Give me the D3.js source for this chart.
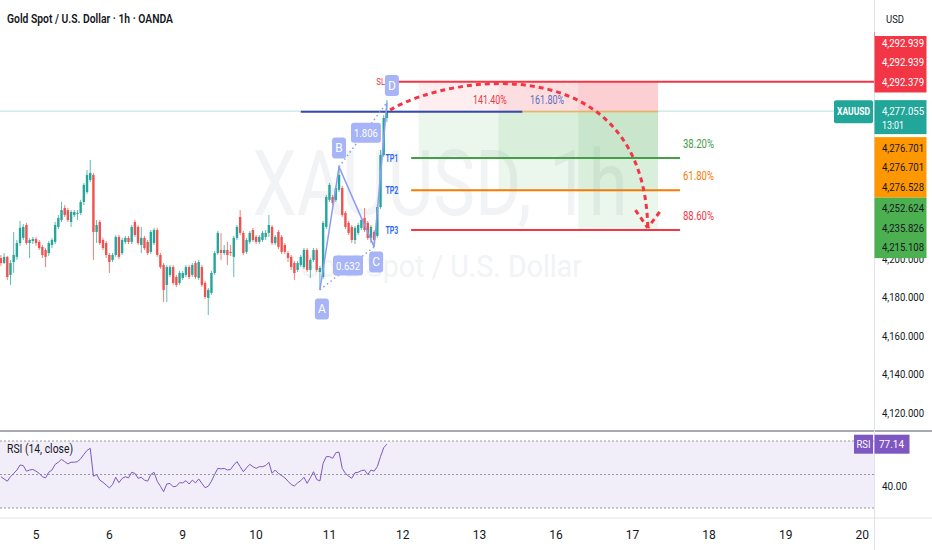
<!DOCTYPE html>
<html>
<head>
<meta charset="utf-8">
<script src="https://cdn.jsdelivr.net/npm/d3@7"></script>
<style>
  body { margin: 0; background: #fff; }
  svg { display: block; font-family: Roboto, "Open Sans", sans-serif; }
</style>
</head>
<body>
<svg id="chart" width="932" height="550"></svg>
<script>
// hourly candles, [open, high, low, close]
const ohlc = [
  [4200.5,4202.1,4196.4,4197.9],[4197.9,4203.1,4197.4,4201.1],[4201.1,4201.6,4189.1,4190.6],[4191.7,4199.5,4186.5,4197.9],
  [4198.4,4214.1,4192.7,4202.1],[4201.1,4209.9,4199.5,4208.3],[4208.3,4219.8,4206.8,4216.2],[4211.0,4218.2,4209.9,4216.7],
  [4217.7,4218.8,4207.3,4208.3],[4208.3,4211.0,4200.5,4209.9],[4209.4,4211.5,4207.8,4210.4],[4210.4,4211.5,4206.8,4208.3],
  [4208.9,4209.9,4204.7,4205.7],[4206.3,4207.3,4200.5,4202.1],[4204.7,4205.7,4195.8,4201.1],[4203.1,4209.4,4201.6,4208.3],
  [4207.3,4211.0,4205.7,4209.9],[4208.9,4219.3,4207.8,4217.7],[4216.7,4222.9,4215.6,4221.4],[4220.3,4229.7,4219.3,4225.5],
  [4226.6,4228.1,4221.9,4222.9],[4225.5,4226.6,4219.3,4220.3],[4219.3,4225.5,4216.7,4224.5],[4222.9,4225.5,4221.9,4224.5],
  [4223.5,4225.5,4220.3,4224.0],[4224.0,4230.8,4222.9,4229.7],[4229.7,4239.6,4228.1,4238.6],[4234.9,4246.4,4233.9,4243.8],
  [4241.2,4251.6,4240.1,4244.8],[4243.8,4244.8,4199.5,4214.1],[4214.1,4220.3,4208.3,4217.7],[4219.3,4220.3,4207.3,4208.3],
  [4209.9,4211.0,4204.7,4205.7],[4208.3,4209.4,4200.5,4202.1],[4202.1,4203.1,4192.7,4198.4],[4199.5,4203.1,4198.4,4202.1],
  [4202.1,4212.5,4201.1,4211.5],[4211.5,4212.5,4200.0,4201.1],[4203.1,4211.0,4202.1,4209.9],[4208.9,4212.0,4207.8,4211.0],
  [4211.0,4212.0,4207.8,4208.9],[4208.9,4217.7,4207.8,4216.7],[4219.3,4220.3,4211.5,4212.5],[4216.7,4217.7,4207.3,4208.3],
  [4207.3,4216.7,4203.1,4211.0],[4211.0,4212.0,4204.7,4205.7],[4208.9,4209.9,4202.1,4203.1],[4203.7,4215.1,4202.6,4214.1],
  [4208.3,4216.2,4207.3,4215.1],[4215.1,4216.2,4201.1,4202.1],[4202.1,4203.1,4194.8,4195.8],[4196.9,4197.9,4177.6,4183.9],
  [4186.5,4196.9,4177.6,4195.8],[4191.7,4196.9,4190.6,4195.8],[4195.8,4196.9,4186.5,4187.5],[4190.6,4191.7,4185.4,4186.5],
  [4187.5,4193.8,4186.5,4192.7],[4190.1,4193.8,4189.1,4192.7],[4191.7,4196.9,4190.6,4195.8],[4195.8,4196.9,4189.6,4190.6],
  [4191.7,4197.9,4190.6,4196.9],[4197.9,4199.0,4189.6,4190.6],[4190.1,4199.5,4189.1,4198.4],[4195.8,4196.9,4185.4,4186.5],
  [4187.5,4188.5,4179.2,4180.2],[4179.7,4184.9,4170.8,4183.9],[4182.3,4193.8,4181.3,4192.7],[4192.7,4204.2,4191.7,4203.1],
  [4203.1,4214.6,4202.1,4213.6],[4204.7,4213.6,4199.5,4203.1],[4203.1,4207.3,4202.1,4204.7],[4204.7,4208.9,4196.9,4202.1],
  [4203.7,4207.3,4201.6,4203.1],[4201.1,4212.0,4190.6,4211.0],[4211.0,4217.7,4209.9,4216.7],[4221.9,4225.5,4212.5,4213.6],
  [4213.6,4214.6,4202.1,4203.1],[4203.7,4211.0,4202.6,4209.9],[4208.9,4214.6,4207.8,4213.6],[4215.1,4216.2,4208.9,4209.9],
  [4211.5,4212.5,4207.8,4208.9],[4208.9,4212.5,4207.8,4211.5],[4209.9,4214.6,4208.9,4213.6],[4211.5,4215.1,4209.9,4213.6],
  [4213.6,4222.9,4211.5,4217.7],[4216.7,4217.7,4207.3,4208.3],[4208.3,4212.5,4207.3,4211.5],[4214.1,4215.1,4205.2,4206.3],
  [4211.5,4212.5,4202.6,4203.7],[4207.3,4208.3,4202.6,4203.7],[4203.1,4204.2,4198.4,4200.5],[4201.1,4202.1,4194.3,4195.8],
  [4197.9,4199.0,4189.1,4192.7],[4194.3,4199.0,4193.2,4197.9],[4196.9,4202.1,4195.8,4201.1],[4195.8,4205.7,4194.8,4204.7],
  [4204.7,4205.7,4193.2,4194.3],[4194.3,4200.5,4190.1,4199.5],[4199.5,4205.7,4198.4,4204.7],[4204.7,4205.7,4193.2,4194.3],
  [4193.2,4196.4,4183.9,4195.3],[4190.6,4219.8,4189.6,4218.8],[4216.7,4233.4,4215.6,4232.3],[4230.8,4239.6,4229.7,4238.6],
  [4232.3,4233.4,4228.1,4229.2],[4230.8,4238.1,4229.7,4237.0],[4236.0,4248.0,4234.9,4243.8],[4237.0,4238.1,4221.9,4222.9],
  [4224.0,4225.0,4215.6,4216.7],[4218.8,4219.8,4212.5,4213.6],[4216.7,4217.7,4208.3,4209.9],[4209.9,4217.2,4207.8,4216.2],
  [4213.6,4218.8,4212.5,4217.7],[4216.2,4221.4,4215.1,4220.3],[4221.4,4226.6,4214.1,4215.1],[4218.8,4219.8,4209.9,4211.0],
  [4211.0,4217.7,4208.3,4216.7],[4214.1,4215.1,4206.3,4209.9],[4212.0,4228.1,4211.0,4227.1],[4227.1,4256.8,4226.1,4254.2],
  [4254.2,4275.0,4253.2,4273.5],[4273.5,4282.9,4271.4,4277.06]
];

const rsi = [
  48,46,44,48,51,54,58.5,58,53,54, 54.5,53,51,48,47,52,54,59,61,63.6,
  61.5,59.5,61,61,61.5,64,68,71.5,73.5,48.5, 50,45,43,40.5,38,41,47.5,42.7,46.5,48,
  47,52,51,46.6,47.5,45,44,50,52,44, 39.5,34.6,41.5,42,39,39.5,42.7,42.5,44.5,41.5,
  45,42.5,46,42,38.2,39.5,44,50,55.5,55, 55.5,54,54.5,58.5,61.5,57,52.5,56,59.1,57,
  55.5,57,57,58,60.9,51.1,54,51,49,47, 44,41,39.7,42.5,44.5,47.5,42.1,47,52.5,45.5,
  44.2,60,66,66,64.5,69.5,70,55.5,51,48.5, 46.6,51.6,52,53.5,54,50,54,53,57,66,
  74,77.14
];

const dayTicks = [11, 34, 57, 80, 103, 126, 150, 174, 198, 222, 246, 270];
const dayLabels = ["5", "6", "9", "10", "11", "12", "13", "16", "17", "18", "19", "20"];
const priceTicks = [4120, 4140, 4160, 4180, 4200, 4220, 4240, 4260, 4280];
const rsiBands = [80, 50, 20];

const lastPrice = 4277.055;
const countdown = "13:01";
const rsiLast = 77.14;

const slLevels = [4292.939, 4292.939, 4292.379];
const entryLevels = [4276.701, 4276.701, 4276.528];
const tpLevels = [4252.624, 4235.826, 4215.108];
const tpNames = ["TP1", "TP2", "TP3"];
const tpColors = ["#43a047", "#f57c00", "#f23645"];
const fibLabels = ["38.20%", "61.80%", "88.60%"];
const boxStarts = [131, 156, 181];
const boxEnd = 206;

// ABCD harmonic pattern
const pattern = [
  { name: "A", i: 100, p: 4183.9 },
  { name: "B", i: 106, p: 4248.0 },
  { name: "C", i: 117, p: 4206.3 },
  { name: "D", i: 121, p: 4281.5 }
];
const ratios = ["0.632", "1.806"];
const extLabels = [{ text: "141.40%", i: 153.3, color: "#f23645" }, { text: "161.80%", i: 171.2, color: "#5c6bc0" }];
const extLevel = 4280.6;

// dashed projection arrow, bar index / price
const arcPoints = [[122, 4277.7], [142.5, 4297.5], [201.5, 4309.0], [202.8, 4216.2]];
const arrowArms = [[198.9, 4225.5], [206.5, 4224.5]];

const W = 932, H = 550, paneR = 874, sepY = 431, axisY = 518;
const svg = d3.select("#chart");

const x = d3.scaleLinear().domain([11, 270]).range([36, 862.2]);
const y = d3.scaleLinear().domain([4120, 4300]).range([412.5, 67.1]);
const ry = d3.scaleLinear().domain([20, 80]).range([508, 441]);
const fmt = d3.format(",.3f");

function txt(g, tx, ty, s, o = {}) {
  const el = g.append("text").attr("x", tx).attr("y", ty).text(s)
    .attr("font-size", o.size || 11)
    .attr("fill", o.fill || "#131722")
    .attr("text-anchor", o.anchor || "start");
  if (o.weight) el.attr("font-weight", o.weight);
  if (o.len) el.attr("textLength", o.len).attr("lengthAdjust", "spacingAndGlyphs");
  return el;
}

svg.append("defs").append("clipPath").attr("id", "pane")
  .append("rect").attr("x", 0).attr("y", 0).attr("width", paneR).attr("height", sepY);

const pane = svg.append("g").attr("clip-path", "url(#pane)");

// watermark
txt(pane, 440, 215, "XAUUSD, 1h", { size: 90, fill: "#f1f3f5", anchor: "middle", len: 375 });
txt(pane, 441, 277, "Gold Spot / U.S. Dollar", { size: 31, fill: "#f1f3f5", anchor: "middle", len: 282 });

// position boxes
boxStarts.forEach((s, k) => {
  pane.append("rect").attr("x", x(s)).attr("width", x(boxEnd) - x(s))
    .attr("y", y(slLevels[2])).attr("height", y(entryLevels[0]) - y(slLevels[2]))
    .attr("fill", "#f23645").attr("opacity", 0.085);
  pane.append("rect").attr("x", x(s)).attr("width", x(boxEnd) - x(s))
    .attr("y", y(entryLevels[0])).attr("height", y(tpLevels[k]) - y(entryLevels[0]))
    .attr("fill", "#4caf50").attr("opacity", 0.11);
});

// current price line
pane.append("line").attr("x1", 0).attr("x2", paneR)
  .attr("y1", y(lastPrice)).attr("y2", y(lastPrice))
  .attr("stroke", "#26a69a").attr("stroke-opacity", 0.35).attr("stroke-width", 1);

// candles
const up = "#26a69a", down = "#ef5350";
const cg = pane.append("g");
ohlc.forEach((d, i) => {
  const col = d[3] >= d[0] ? up : down;
  cg.append("line").attr("x1", x(i)).attr("x2", x(i))
    .attr("y1", y(d[1])).attr("y2", y(d[2]))
    .attr("stroke", col).attr("stroke-opacity", 0.75).attr("stroke-width", 1);
  const top = y(Math.max(d[0], d[3])), bot = y(Math.min(d[0], d[3]));
  cg.append("rect").attr("x", x(i) - 1.2).attr("width", 2.4)
    .attr("y", top).attr("height", Math.max(1, bot - top)).attr("fill", col);
});

// pattern base line + entry line
const entryY = y(entryLevels[0]);
pane.append("line").attr("x1", x(94)).attr("x2", x(163.5)).attr("y1", entryY).attr("y2", entryY)
  .attr("stroke", "#3949ab").attr("stroke-width", 2);
pane.append("line").attr("x1", x(163.5)).attr("x2", x(boxEnd)).attr("y1", entryY).attr("y2", entryY)
  .attr("stroke", "#ffa726").attr("stroke-width", 1);

// SL line
pane.append("line").attr("x1", x(123.5)).attr("x2", paneR)
  .attr("y1", y(slLevels[2])).attr("y2", y(slLevels[2]))
  .attr("stroke", "#f23645").attr("stroke-width", 2);
txt(pane, x(120.5), y(slLevels[2]) + 3, "SL", { size: 9, fill: "#f23645", anchor: "end", len: 9 });

// TP lines
tpLevels.forEach((p, k) => {
  pane.append("line").attr("x1", x(128.6)).attr("x2", x(212.9)).attr("y1", y(p)).attr("y2", y(p))
    .attr("stroke", tpColors[k]).attr("stroke-width", 2);
  txt(pane, x(124.6), y(p) + 4, tpNames[k], { size: 10, fill: "#2962ff", anchor: "end", weight: 600, len: 13 });
  txt(pane, x(213.8), y(p) - 10, fibLabels[k], { size: 12, fill: tpColors[k], len: 31 });
});

extLabels.forEach(d => {
  txt(pane, x(d.i), y(extLevel), d.text, { size: 12, fill: d.color, anchor: "middle", len: 34 });
});

// ABCD
const pc = "#8c9cf2", boxc = "#a7b4f7";
const P = pattern.map(d => ({ ...d, px: x(d.i), py: y(d.p) }));
const lineGen = d3.line().x(d => d.px).y(d => d.py);
pane.append("path").attr("d", lineGen(P)).attr("fill", "none").attr("stroke", pc).attr("stroke-width", 1.5);
const ratioShift = [[1, -3], [3, -2]];
[[0, 2], [1, 3]].forEach(([a, b], k) => {
  pane.append("line").attr("x1", P[a].px).attr("y1", P[a].py).attr("x2", P[b].px).attr("y2", P[b].py)
    .attr("stroke", pc).attr("stroke-width", 1.5).attr("stroke-dasharray", "1.5,3");
  const mx = (P[a].px + P[b].px) / 2 + ratioShift[k][0], my = (P[a].py + P[b].py) / 2 + ratioShift[k][1];
  pane.append("rect").attr("x", mx - 15).attr("y", my - 10).attr("width", 30).attr("height", 20)
    .attr("rx", 3).attr("fill", boxc);
  txt(pane, mx, my + 4.5, ratios[k], { size: 11.5, fill: "#fff", anchor: "middle", len: 24 });
});
const offs = [[2, 19], [0, -19], [2, 15], [5, -17]];
P.forEach((d, k) => {
  const cx = d.px + offs[k][0], cy = d.py + offs[k][1];
  pane.append("rect").attr("x", cx - 7).attr("y", cy - 10.5).attr("width", 14).attr("height", 21)
    .attr("rx", 3).attr("fill", boxc);
  txt(pane, cx, cy + 4.5, d.name, { size: 12, fill: "#fff", anchor: "middle" });
});

// projection arrow
const ap = arcPoints.map(d => [x(d[0]), y(d[1])]);
const arc = d3.path();
arc.moveTo(ap[0][0], ap[0][1]);
arc.bezierCurveTo(ap[1][0], ap[1][1], ap[2][0], ap[2][1], ap[3][0], ap[3][1]);
const dashStyle = el => el.attr("fill", "none").attr("stroke", "#f23645").attr("stroke-width", 3)
  .attr("stroke-dasharray", "5,4");
dashStyle(pane.append("path").attr("d", arc.toString()));
arrowArms.forEach(a => {
  dashStyle(pane.append("line").attr("x1", x(a[0])).attr("y1", y(a[1])).attr("x2", ap[3][0]).attr("y2", ap[3][1]));
});

// title
txt(svg, 7, 23, "Gold Spot / U.S. Dollar · 1h · OANDA", { size: 12.5, weight: 600, len: 166 });

// RSI pane
const rg = svg.append("g");
rg.append("rect").attr("x", 0).attr("width", paneR).attr("y", ry(80)).attr("height", ry(20) - ry(80))
  .attr("fill", "#7e57c2").attr("opacity", 0.1);
rsiBands.forEach(b => {
  rg.append("line").attr("x1", 0).attr("x2", paneR).attr("y1", ry(b)).attr("y2", ry(b))
    .attr("stroke", "#9598a1").attr("stroke-dasharray", "2,2").attr("stroke-width", 1);
});
rg.append("path").datum(rsi)
  .attr("d", d3.line().x((d, i) => x(i)).y(d => ry(d)))
  .attr("fill", "none").attr("stroke", "#7e57c2").attr("stroke-width", 1);
txt(rg, 7, 453, "RSI (14, close)", { size: 12, len: 66 });

// separators
svg.append("line").attr("x1", 0).attr("x2", W).attr("y1", sepY).attr("y2", sepY)
  .attr("stroke", "#8a8d96").attr("stroke-width", 1.5);
svg.append("line").attr("x1", 0).attr("x2", W).attr("y1", axisY).attr("y2", axisY)
  .attr("stroke", "#e0e3eb");
svg.append("line").attr("x1", paneR + 0.5).attr("x2", paneR + 0.5).attr("y1", 0).attr("y2", H)
  .attr("stroke", "#e0e3eb");

// time axis
dayTicks.forEach((d, k) => {
  txt(svg, x(d), 539, dayLabels[k], { size: 12, anchor: "middle" });
});

// price axis
const ax = svg.append("g");
priceTicks.forEach(p => txt(ax, 882, y(p) + 4, fmt(p), { size: 11, len: 42 }));

const rowH = 19.5;
function stack(levels, yTop, color, textColor) {
  const h = levels.length * rowH + 2;
  ax.append("rect").attr("x", paneR + 0.5).attr("y", yTop).attr("width", 52).attr("height", h).attr("fill", color);
  levels.forEach((p, k) => {
    txt(ax, 882, yTop + 1 + rowH * k + rowH / 2 + 4, fmt(p), { size: 11, fill: textColor, len: 42 });
  });
  return yTop + h;
}
stack(slLevels, y(slLevels[2]) + rowH / 2 + 1 - slLevels.length * rowH - 2, "#f23645", "#fff");

const tealTop = y(lastPrice) - 11;
ax.append("rect").attr("x", paneR + 0.5).attr("y", tealTop).attr("width", 52).attr("height", 34).attr("fill", "#22a69a");
txt(ax, 882, y(lastPrice) + 4, fmt(lastPrice), { size: 11, fill: "#fff", len: 42 });
txt(ax, 882, y(lastPrice) + 18, countdown, { size: 11, fill: "#fff", len: 22 });
// symbol tag
svg.append("rect").attr("x", 834).attr("y", y(lastPrice) - 11).attr("width", 39).attr("height", 23)
  .attr("rx", 2).attr("fill", "#22a69a");
txt(svg, 853.5, y(lastPrice) + 4, "XAUUSD", { size: 10, fill: "#fff", weight: 700, anchor: "middle", len: 33 });

const oBottom = stack(entryLevels, tealTop + 37, "#ff9800", "#131722");
stack(tpLevels, oBottom, "#4caf50", "#131722");

// header
svg.append("rect").attr("x", paneR + 1).attr("y", 0).attr("width", W - paneR - 1).attr("height", 36).attr("fill", "#fff");
txt(svg, 886, 23, "USD", { size: 11, len: 18 });

// RSI axis
const rY = ry(rsiLast);
svg.append("rect").attr("x", 854).attr("y", rY - 9.5).attr("width", 19).attr("height", 19).attr("fill", "#7e57c2");
txt(svg, 863.5, rY + 4, "RSI", { size: 10.5, fill: "#fff", anchor: "middle", len: 14 });
svg.append("rect").attr("x", paneR + 0.5).attr("y", rY - 9.5).attr("width", 35).attr("height", 19).attr("fill", "#7e57c2");
txt(svg, 879, rY + 4, rsiLast.toFixed(2), { size: 11, fill: "#fff", len: 25 });
txt(svg, 882, ry(40) + 4, (40).toFixed(2), { size: 11, len: 25 });
</script>
</body>
</html>
